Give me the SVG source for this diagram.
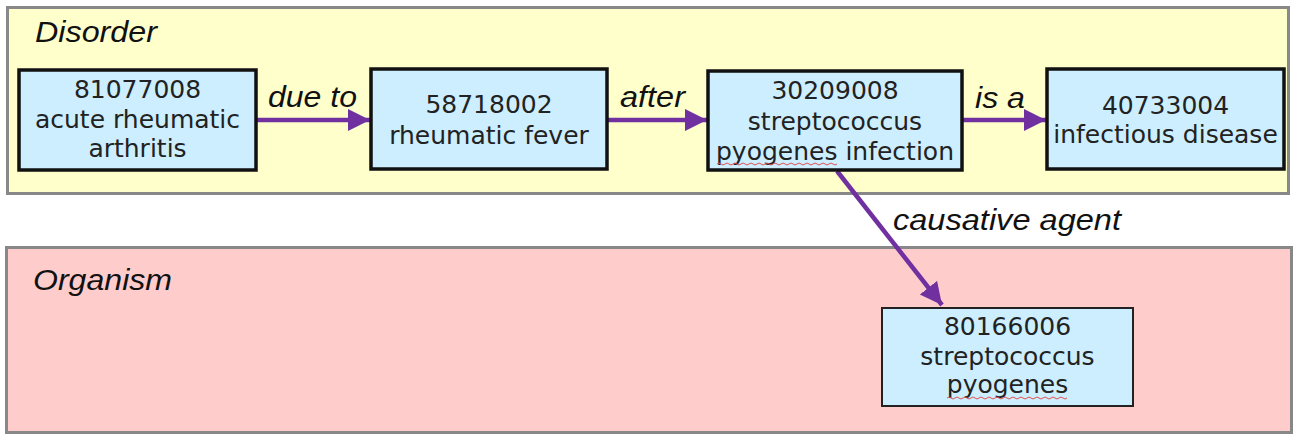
<svg xmlns="http://www.w3.org/2000/svg" width="1293" height="435" viewBox="0 0 1293 435">
<style>
.panel{stroke:#888;stroke-width:3}
.node{fill:#cceeff;stroke:#111;stroke-width:3.5}
.node2{fill:#cceeff;stroke:#222;stroke-width:2}
.nt{font-family:"DejaVu Sans",Verdana,sans-serif;font-size:25px;fill:#222;text-anchor:middle}
.lbl{font-family:"Liberation Sans",Arial,sans-serif;font-style:italic;font-size:29px;fill:#111}
.edge{stroke:#7030a0;stroke-width:4.5;fill:none}
.sq{stroke:#e05050;stroke-width:1;fill:none}
</style>
<defs>
<marker id="ah" markerUnits="userSpaceOnUse" markerWidth="24" markerHeight="24" viewBox="0 0 24 24" refX="22" refY="12" orient="auto">
<path d="M0,1 L22,12 L0,23 Z" fill="#7030a0"/>
</marker>
</defs>
<g id="disorder-panel">
<rect class="panel" x="7.5" y="7.5" width="1281" height="186" fill="#ffffcc"/>
<text class="lbl" x="35" y="42" textLength="122" lengthAdjust="spacingAndGlyphs">Disorder</text>
</g>
<g id="organism-panel">
<rect class="panel" x="6.5" y="247.5" width="1285" height="185" fill="#ffcccc"/>
<text class="lbl" x="33" y="290" textLength="139" lengthAdjust="spacingAndGlyphs">Organism</text>
</g>
<g id="connectors">
<line class="edge" x1="256" y1="120" x2="370" y2="120" marker-end="url(#ah)"/>
<line class="edge" x1="607" y1="120" x2="707" y2="120" marker-end="url(#ah)"/>
<line class="edge" x1="962" y1="120" x2="1046" y2="120" marker-end="url(#ah)"/>
<line class="edge" x1="837" y1="171" x2="942" y2="305" marker-end="url(#ah)"/>
<text class="lbl" x="268" y="107" textLength="89" lengthAdjust="spacingAndGlyphs">due to</text>
<text class="lbl" x="620" y="107" textLength="65" lengthAdjust="spacingAndGlyphs">after</text>
<text class="lbl" x="975" y="108" textLength="50" lengthAdjust="spacingAndGlyphs">is a</text>
<text class="lbl" x="893" y="230" textLength="228" lengthAdjust="spacingAndGlyphs">causative agent</text>
</g>
<g id="n81077008">
<rect class="node" x="19" y="70" width="237" height="100"/>
<text class="nt" x="137.5" y="98">81077008</text>
<text class="nt" x="137.5" y="128">acute rheumatic</text>
<text class="nt" x="137.5" y="157">arthritis</text>
</g>
<g id="n58718002">
<rect class="node" x="371" y="69" width="236" height="100"/>
<text class="nt" x="489" y="113">58718002</text>
<text class="nt" x="489" y="144">rheumatic fever</text>
</g>
<g id="n30209008">
<rect class="node" x="708" y="71" width="254" height="99"/>
<text class="nt" x="835" y="99">30209008</text>
<text class="nt" x="835" y="130">streptococcus</text>
<text class="nt" x="835" y="160">pyogenes infection</text>
<path class="sq" d="M717,164 q2,-2 4,0 t4,0 t4,0 t4,0 t4,0 t4,0 t4,0 t4,0 t4,0 t4,0 t4,0 t4,0 t4,0 t4,0 t4,0 t4,0 t4,0 t4,0 t4,0 t4,0 t4,0 t4,0 t4,0 t4,0 t4,0 t4,0 t4,0 t4,0 t4,0 t4,0"/>
</g>
<g id="n40733004">
<rect class="node" x="1047" y="69" width="237" height="100"/>
<text class="nt" x="1165.5" y="114">40733004</text>
<text class="nt" x="1165.5" y="143">infectious disease</text>
</g>
<g id="n80166006">
<rect class="node2" x="882" y="308" width="251" height="98"/>
<text class="nt" x="1007.5" y="335">80166006</text>
<text class="nt" x="1007.5" y="365">streptococcus</text>
<text class="nt" x="1007.5" y="393">pyogenes</text>
<path class="sq" d="M947,398 q2,-2 4,0 t4,0 t4,0 t4,0 t4,0 t4,0 t4,0 t4,0 t4,0 t4,0 t4,0 t4,0 t4,0 t4,0 t4,0 t4,0 t4,0 t4,0 t4,0 t4,0 t4,0 t4,0 t4,0 t4,0 t4,0 t4,0 t4,0 t4,0 t4,0 t4,0"/>
</g>
</svg>
